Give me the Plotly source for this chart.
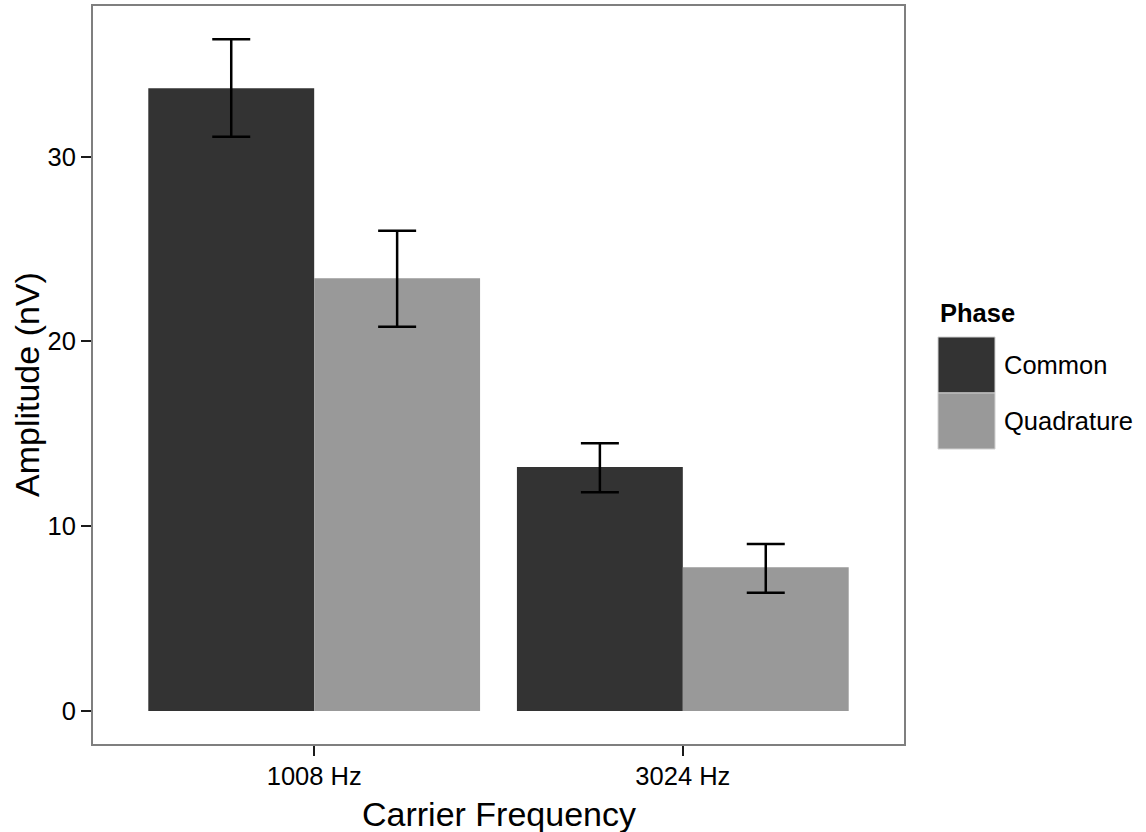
import plotly.graph_objects as go

# ---- data ----
categories = ["1008 Hz", "3024 Hz"]
phases = ["Common", "Quadrature"]
common_vals = [33.7, 13.2]
common_lo = [31.08, 11.84]
common_hi = [36.35, 14.48]
quad_vals = [23.41, 7.78]
quad_lo = [20.79, 6.39]
quad_hi = [25.99, 9.04]
y_ticks = [0, 10, 20, 30]

colors = {"Common": "#333333", "Quadrature": "#999999"}
FONT = "Liberation Sans, Arial, sans-serif"

W, H = 1146, 832
L, R, T, B = 93, 242, 6, 88
pw, ph = W - L - R, H - T - B


def px_x(px):
    return (px - L) / pw


def px_y(py):
    return (H - B - py) / ph


fig = go.Figure()
series = [
    ("Common", common_vals, common_lo, common_hi),
    ("Quadrature", quad_vals, quad_lo, quad_hi),
]
for name, vals, lo, hi in series:
    fig.add_trace(go.Bar(
        x=categories, y=vals, name=name,
        marker=dict(color=colors[name], line=dict(width=0)),
        error_y=dict(
            type="data", symmetric=False,
            array=[h - v for h, v in zip(hi, vals)],
            arrayminus=[v - l for v, l in zip(vals, lo)],
            color="black", thickness=2.5, width=19,
        ),
        showlegend=False,
    ))

fig.update_layout(
    width=W, height=H,
    margin=dict(l=L, r=R, t=T, b=B, autoexpand=False),
    paper_bgcolor="white", plot_bgcolor="white",
    barmode="group", bargap=0.1, bargroupgap=0,
    font=dict(family=FONT, color="black"),
    showlegend=False,
)
fig.update_xaxes(
    range=[-0.6, 1.6], showgrid=False, zeroline=False,
    showline=True, mirror=True, linecolor="#7f7f7f", linewidth=2,
    ticks="outside", ticklen=10, tickwidth=2, tickcolor="#1a1a1a",
    tickfont=dict(size=25.5, color="black", family=FONT),
    ticklabelstandoff=-2,
)
fig.update_yaxes(
    range=[-1.79, 38.15], showgrid=False, zeroline=False,
    showline=True, mirror=True, linecolor="#7f7f7f", linewidth=2,
    ticks="outside", ticklen=10, tickwidth=2, tickcolor="#1a1a1a",
    tickvals=y_ticks, ticktext=[str(v) for v in y_ticks],
    tickfont=dict(size=25.5, color="black", family=FONT),
)

# axis titles
fig.add_annotation(text="Carrier Frequency", xref="paper", yref="paper",
                   x=0.5, y=px_y(814), xanchor="center", yanchor="middle",
                   showarrow=False, font=dict(size=34, family=FONT, color="black"))
fig.add_annotation(text="Amplitude (nV)", xref="paper", yref="paper",
                   x=px_x(27), y=px_y(385), xanchor="center", yanchor="middle",
                   textangle=-90, showarrow=False,
                   font=dict(size=34, family=FONT, color="black"))

# manual legend
fig.add_annotation(text="<b>Phase</b>", xref="paper", yref="paper",
                   x=px_x(938), y=px_y(313), xanchor="left", yanchor="middle",
                   showarrow=False, font=dict(size=25.5, family=FONT, color="black"))
key_top = 337
key_h = 56
for i, name in enumerate(phases):
    y0 = key_top + i * key_h
    fig.add_shape(type="rect", xref="paper", yref="paper",
                  x0=px_x(938), x1=px_x(995), y0=px_y(y0 + key_h), y1=px_y(y0),
                  fillcolor=colors[name], line=dict(color="#d0d0d0", width=1))
    fig.add_annotation(text=name, xref="paper", yref="paper",
                       x=px_x(1002), y=px_y(y0 + key_h / 2), xanchor="left",
                       yanchor="middle", showarrow=False,
                       font=dict(size=25.5, family=FONT, color="black"))

fig.write_html("out.html")
